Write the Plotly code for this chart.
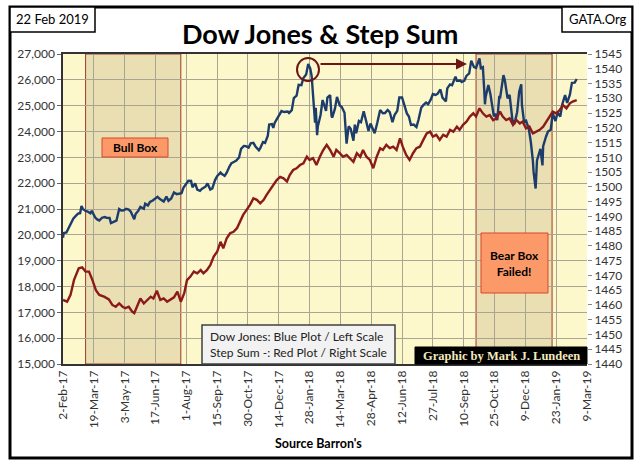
import plotly.graph_objects as go

# ---------------- data ----------------
dow_dates = [
    "2017-02-02","2017-02-03","2017-02-07","2017-02-10","2017-02-14","2017-02-17","2017-02-21","2017-02-24",
    "2017-02-27","2017-03-01","2017-03-03","2017-03-07","2017-03-10","2017-03-14","2017-03-16","2017-03-21",
    "2017-03-24","2017-03-27","2017-03-31","2017-04-04","2017-04-07","2017-04-11","2017-04-13","2017-04-18",
    "2017-04-21","2017-04-25","2017-04-28","2017-05-02","2017-05-05","2017-05-09","2017-05-12","2017-05-17",
    "2017-05-19","2017-05-23","2017-05-26","2017-05-31","2017-06-02","2017-06-06","2017-06-09","2017-06-13",
    "2017-06-16","2017-06-20","2017-06-23","2017-06-27","2017-06-29","2017-07-03","2017-07-06","2017-07-10",
    "2017-07-14","2017-07-18","2017-07-21","2017-07-25","2017-07-28","2017-08-01","2017-08-04","2017-08-08",
    "2017-08-10","2017-08-14","2017-08-17","2017-08-21","2017-08-24","2017-08-29","2017-09-01","2017-09-05",
    "2017-09-08","2017-09-12","2017-09-15","2017-09-20","2017-09-22","2017-09-26","2017-09-29","2017-10-03",
    "2017-10-06","2017-10-10","2017-10-13","2017-10-17","2017-10-20","2017-10-24","2017-10-27","2017-10-31",
    "2017-11-03","2017-11-07","2017-11-10","2017-11-15","2017-11-17","2017-11-21","2017-11-24","2017-11-28",
    "2017-11-30","2017-12-04","2017-12-06","2017-12-08","2017-12-12","2017-12-15","2017-12-18","2017-12-22",
    "2017-12-27","2017-12-29","2018-01-02","2018-01-05","2018-01-09","2018-01-12","2018-01-16","2018-01-19",
    "2018-01-23","2018-01-26","2018-01-29","2018-01-31","2018-02-02","2018-02-05","2018-02-06","2018-02-08",
    "2018-02-09","2018-02-13","2018-02-16","2018-02-21","2018-02-23","2018-02-27","2018-03-01","2018-03-02",
    "2018-03-06","2018-03-09","2018-03-13","2018-03-16","2018-03-20","2018-03-22","2018-03-23","2018-03-26",
    "2018-03-29","2018-04-02","2018-04-04","2018-04-06","2018-04-10","2018-04-13","2018-04-17","2018-04-20",
    "2018-04-24","2018-04-27","2018-05-01","2018-05-03","2018-05-07","2018-05-11","2018-05-15","2018-05-18",
    "2018-05-22","2018-05-25","2018-05-29","2018-06-01","2018-06-05","2018-06-08","2018-06-12","2018-06-15",
    "2018-06-19","2018-06-22","2018-06-25","2018-06-29","2018-07-03","2018-07-06","2018-07-10","2018-07-13",
    "2018-07-17","2018-07-20","2018-07-24","2018-07-27","2018-07-31","2018-08-03","2018-08-07","2018-08-10",
    "2018-08-15","2018-08-17","2018-08-21","2018-08-24","2018-08-29","2018-08-31","2018-09-05","2018-09-07",
    "2018-09-11","2018-09-14","2018-09-18","2018-09-21","2018-09-25","2018-09-28","2018-10-01","2018-10-03",
    "2018-10-05","2018-10-08","2018-10-10","2018-10-11","2018-10-12","2018-10-16","2018-10-19","2018-10-24",
    "2018-10-26","2018-10-29","2018-11-01","2018-11-02","2018-11-07","2018-11-09","2018-11-13","2018-11-16",
    "2018-11-20","2018-11-23","2018-11-27","2018-11-30","2018-12-03","2018-12-04","2018-12-07","2018-12-10",
    "2018-12-14","2018-12-17","2018-12-20","2018-12-21","2018-12-24","2018-12-26","2018-12-28","2018-12-31",
    "2019-01-03","2019-01-04","2019-01-08","2019-01-11","2019-01-15","2019-01-18","2019-01-22","2019-01-25",
    "2019-01-29","2019-02-01","2019-02-05","2019-02-08","2019-02-12","2019-02-15","2019-02-19","2019-02-22",
]
dow_values = [
    19884,20071,20090,20269,20504,20624,20744,20822,
    20838,21115,21006,20925,20903,20837,20934,20669,
    20597,20551,20663,20689,20656,20651,20453,20524,
    20548,20997,20941,20950,21007,20975,20897,20607,
    20805,20937,21080,21009,21206,21137,21272,21329,
    21384,21468,21395,21311,21287,21479,21320,21409,
    21638,21575,21580,21613,21830,21964,22093,22085,
    21844,21994,21750,21703,21783,21865,21988,21753,
    21798,22119,22268,22412,22350,22284,22405,22641,
    22773,22831,22872,22997,23329,23441,23434,23377,
    23539,23557,23422,23271,23358,23590,23558,23836,
    24272,24290,24140,24329,24504,24652,24792,24754,
    24774,24719,24824,25295,25385,25803,25792,26071,
    26210,26617,26439,26149,25521,24346,24913,23860,
    24191,24640,25219,24798,25310,25410,24609,24538,
    24885,25336,25008,24947,24727,23958,23533,24202,
    24103,23644,24264,23933,24408,24360,24787,24463,
    24025,24311,24100,23931,24357,24831,24706,24715,
    24834,24753,24362,24635,24799,25317,25321,25090,
    24701,24581,24252,24271,24175,24456,24920,25019,
    25120,25058,25241,25451,25415,25463,25629,25313,
    25162,25669,25822,25790,26124,25965,25974,25917,
    25971,26154,26246,26743,26492,26458,26651,26828,
    26447,26487,25599,25053,25340,25798,25444,24583,
    24688,24443,25380,25270,26180,25989,25287,25413,
    24466,24286,24749,25538,25826,25027,24389,24423,
    24101,23593,22860,22445,21792,22878,23062,23327,
    22686,23433,23787,23996,24065,24706,24405,24737,
    24580,25064,25411,25106,25426,25883,25891,26031,
]

step_dates = [
    "2017-02-02","2017-02-08","2017-02-13","2017-02-18","2017-02-25","2017-03-02","2017-03-07","2017-03-12",
    "2017-03-17","2017-03-22","2017-03-27","2017-04-03","2017-04-10","2017-04-15","2017-04-20","2017-04-25",
    "2017-04-30","2017-05-04","2017-05-09","2017-05-14","2017-05-17","2017-05-21","2017-05-26","2017-05-31",
    "2017-06-05","2017-06-10","2017-06-14","2017-06-19","2017-06-24","2017-06-29","2017-07-04","2017-07-09",
    "2017-07-14","2017-07-19","2017-07-24","2017-07-29","2017-08-02","2017-08-07","2017-08-12","2017-08-17",
    "2017-08-22","2017-08-26","2017-08-31","2017-09-05","2017-09-10","2017-09-15","2017-09-20","2017-09-24",
    "2017-09-29","2017-10-04","2017-10-09","2017-10-14","2017-10-19","2017-10-23","2017-10-28","2017-11-02",
    "2017-11-07","2017-11-12","2017-11-17","2017-11-22","2017-11-26","2017-12-01","2017-12-06","2017-12-11",
    "2017-12-16","2017-12-21","2017-12-26","2017-12-30","2018-01-04","2018-01-09","2018-01-14","2018-01-19",
    "2018-01-24","2018-01-28","2018-02-02","2018-02-07","2018-02-12","2018-02-17","2018-02-22","2018-02-27",
    "2018-03-04","2018-03-08","2018-03-13","2018-03-18","2018-03-23","2018-03-28","2018-04-02","2018-04-07",
    "2018-04-12","2018-04-16","2018-04-21","2018-04-26","2018-05-01","2018-05-06","2018-05-11","2018-05-15",
    "2018-05-20","2018-05-25","2018-05-30","2018-06-04","2018-06-09","2018-06-13","2018-06-18","2018-06-23",
    "2018-06-28","2018-07-03","2018-07-08","2018-07-13","2018-07-18","2018-07-23","2018-07-27","2018-08-01",
    "2018-08-06","2018-08-11","2018-08-16","2018-08-21","2018-08-26","2018-08-31","2018-09-04","2018-09-09",
    "2018-09-14","2018-09-19","2018-09-24","2018-09-28","2018-10-03","2018-10-08","2018-10-13","2018-10-18",
    "2018-10-23","2018-10-28","2018-11-02","2018-11-06","2018-11-11","2018-11-16","2018-11-21","2018-11-26",
    "2018-12-01","2018-12-05","2018-12-10","2018-12-15","2018-12-20","2018-12-25","2018-12-30","2019-01-04",
    "2019-01-09","2019-01-13","2019-01-18","2019-01-23","2019-01-28","2019-02-02","2019-02-07","2019-02-12",
    "2019-02-16","2019-02-22",
]
step_values = [
    1461.7,1461.1,1463.4,1468.4,1472.4,1472.7,1471.3,1471.3,
    1468.4,1465.0,1463.4,1462.8,1461.9,1460.0,1459.4,1460.5,
    1459.4,1458.9,1459.4,1457.7,1457.2,1459.4,1462.2,1460.5,
    1461.7,1462.8,1462.2,1464.8,1461.7,1462.2,1461.1,1461.9,
    1462.6,1464.5,1461.1,1464.0,1468.4,1469.6,1471.3,1470.7,
    1471.8,1470.7,1471.8,1473.5,1476.4,1478.0,1481.4,1479.2,
    1482.6,1484.3,1484.8,1486.0,1488.8,1490.5,1492.2,1493.9,
    1496.1,1495.6,1494.4,1495.6,1497.2,1498.9,1500.6,1502.3,
    1503.4,1502.9,1501.8,1504.0,1505.7,1506.3,1507.4,1508.0,
    1510.2,1509.1,1509.7,1507.4,1510.2,1512.5,1514.2,1512.5,
    1510.2,1512.5,1511.4,1510.2,1510.8,1509.7,1508.5,1511.4,
    1510.2,1512.5,1510.2,1509.1,1506.3,1510.2,1513.1,1512.5,
    1514.2,1513.1,1513.6,1512.5,1516.4,1513.6,1510.8,1509.1,
    1511.4,1513.1,1513.6,1515.9,1518.1,1518.7,1517.0,1517.6,
    1515.9,1517.6,1517.0,1519.3,1518.7,1520.4,1519.3,1521.0,
    1522.1,1523.8,1524.9,1523.8,1526.6,1524.9,1523.8,1524.3,
    1522.6,1523.2,1525.5,1523.8,1522.6,1523.2,1521.0,1522.6,
    1521.5,1522.1,1519.8,1520.4,1518.1,1518.7,1519.3,1520.4,
    1522.1,1523.8,1525.5,1524.9,1526.0,1527.7,1526.6,1528.3,
    1528.9,1529.4,
]

bull_box = ["2017-03-07", "2017-07-24"]
bear_box = ["2018-09-28", "2019-01-17"]
x_range = ["2017-02-02", "2019-03-09"]
left_range = [15000, 27000]
right_range = [1440, 1545]

# ---------------- layout helpers (pixel -> paper) ----------------
W, H = 638, 467
L, R, T, B = 63, 51, 54, 103
PW, PH = W - L - R, H - T - B

def px(x):
    return (x - L) / PW

def py(y):
    return (H - B - y) / PH

FONT = "Lato, 'Open Sans', sans-serif"

fig = go.Figure()
fig.add_trace(go.Scatter(x=step_dates, y=step_values, mode="lines", yaxis="y2",
                         line=dict(color="#8b1a1a", width=2.4), hoverinfo="skip"))
fig.add_trace(go.Scatter(x=dow_dates, y=dow_values, mode="lines", yaxis="y",
                         line=dict(color="#1c3d6b", width=2.4), hoverinfo="skip"))

shapes = []
for box in (bull_box, bear_box):
    shapes.append(dict(type="rect", xref="x", yref="paper", x0=box[0], x1=box[1], y0=0, y1=1,
                       fillcolor="#e9dfb3", line=dict(color="#9c3a2a", width=1), layer="below"))
shapes.append(dict(type="rect", xref="paper", yref="paper", x0=px(10), x1=px(632), y0=py(458), y1=py(7),
                   line=dict(color="black", width=3), fillcolor="rgba(0,0,0,0)"))
shapes.append(dict(type="rect", xref="paper", yref="paper", x0=px(10), x1=px(95), y0=py(32), y1=py(7),
                   line=dict(color="black", width=1.5), fillcolor="white"))
shapes.append(dict(type="rect", xref="paper", yref="paper", x0=px(562), x1=px(632), y0=py(32), y1=py(7),
                   line=dict(color="black", width=1.5), fillcolor="white"))
shapes.append(dict(type="rect", xref="paper", yref="paper", x0=px(102), x1=px(168), y0=py(157), y1=py(138),
                   line=dict(color="#d9462c", width=1), fillcolor="#fb9a68"))
shapes.append(dict(type="rect", xref="paper", yref="paper", x0=px(481), x1=px(548), y0=py(293), y1=py(233),
                   line=dict(color="#d9462c", width=1), fillcolor="#fb9a68"))
shapes.append(dict(type="rect", xref="paper", yref="paper", x0=px(202), x1=px(395), y0=py(364), y1=py(325),
                   line=dict(color="#404040", width=1.5), fillcolor="#f2f2f2"))
shapes.append(dict(type="rect", xref="paper", yref="paper", x0=px(415), x1=px(587), y0=py(364), y1=py(347),
                   line=dict(color="black", width=1), fillcolor="black"))
shapes.append(dict(type="circle", xref="paper", yref="paper", x0=px(297), x1=px(319), y0=py(81), y1=py(58),
                   line=dict(color="#6e1414", width=2), fillcolor="rgba(0,0,0,0)"))

annotations = [
    dict(text="<b>Dow Jones & Step Sum</b>", x=px(320), y=py(33), xref="paper", yref="paper",
         showarrow=False, font=dict(family=FONT, size=27, color="black"), xanchor="center", yanchor="middle"),
    dict(text="22 Feb 2019", x=px(52.5), y=py(19.5), xref="paper", yref="paper", showarrow=False,
         font=dict(family=FONT, size=13, color="black"), xanchor="center", yanchor="middle"),
    dict(text="GATA.Org", x=px(597), y=py(19.5), xref="paper", yref="paper", showarrow=False,
         font=dict(family=FONT, size=13, color="black"), xanchor="center", yanchor="middle"),
    dict(text="<b>Bull Box</b>", x=px(135), y=py(147.5), xref="paper", yref="paper", showarrow=False,
         font=dict(family=FONT, size=12, color="black"), xanchor="center", yanchor="middle"),
    dict(text="<b>Bear Box<br>Failed!</b>", x=px(514.5), y=py(263), xref="paper", yref="paper", showarrow=False,
         font=dict(family=FONT, size=12, color="black"), xanchor="center", yanchor="middle"),
    dict(text="Dow Jones: Blue Plot / Left Scale<br>Step Sum -: Red Plot / Right Scale", x=px(208), y=py(344.5),
         xref="paper", yref="paper", showarrow=False, align="left",
         font=dict(family=FONT, size=12, color="#222"), xanchor="left", yanchor="middle"),
    dict(text="<b>Graphic by Mark J. Lundeen</b>", x=px(501), y=py(355.5), xref="paper", yref="paper",
         showarrow=False, font=dict(family="'Liberation Serif', 'DejaVu Serif', serif", size=12.5, color="#f3e9bf"),
         xanchor="center", yanchor="middle"),
    dict(text="<b>Source Barron's</b>", x=px(318), y=py(443), xref="paper", yref="paper", showarrow=False,
         font=dict(family=FONT, size=12.5, color="black"), xanchor="center", yanchor="middle"),
    dict(text="", x=px(467), y=py(64), ax=-148, ay=0, xref="paper", yref="paper",
         showarrow=True, arrowhead=2, arrowsize=1.1, arrowwidth=2, arrowcolor="#6e1414"),
]

fig.update_layout(
    width=W, height=H,
    margin=dict(l=L, r=R, t=T, b=B),
    paper_bgcolor="white",
    plot_bgcolor="#fdf8cb",
    showlegend=False,
    shapes=shapes,
    annotations=annotations,
    xaxis=dict(type="date", range=x_range, tick0=x_range[0], dtick=45 * 86400000,
               tickformat="%-d-%b-%y", tickangle=-90, showgrid=True, gridcolor="#a9a592", gridwidth=1,
               showline=True, linecolor="#333", linewidth=1.5, mirror=True, ticks="",
               tickfont=dict(family=FONT, size=12, color="#333"), zeroline=False),
    yaxis=dict(range=left_range, dtick=1000, tickformat=",d", showgrid=True, gridcolor="#a9a592",
               gridwidth=1, showline=True, linecolor="#333", linewidth=1.5, ticks="outside", ticklen=4,
               tickcolor="#666", tickfont=dict(family=FONT, size=12, color="#333"), zeroline=False),
    yaxis2=dict(range=right_range, dtick=5, overlaying="y", side="right", showgrid=False,
                showline=False, ticks="outside", ticklen=4, tickcolor="#888",
                tickfont=dict(family=FONT, size=12, color="#333"), zeroline=False),
)

fig.write_html("out.html", config={"displayModeBar": False},
               post_script="document.body.style.margin='0';document.body.style.padding='0';")
